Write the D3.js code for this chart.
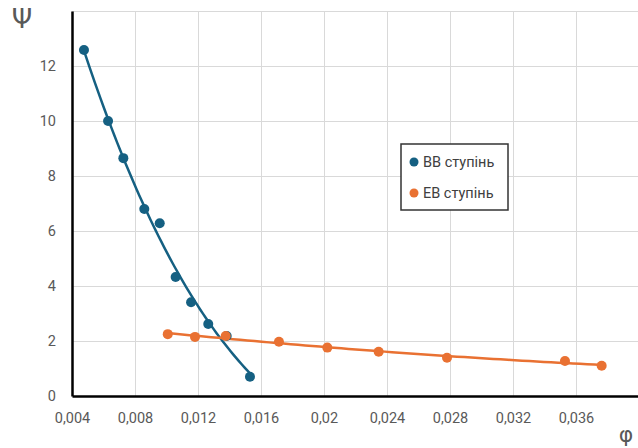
<!DOCTYPE html>
<html>
<head>
<meta charset="utf-8">
<script src="https://cdn.jsdelivr.net/npm/d3@7"></script>
<style>
  body { margin: 0; background: #fff; }
  svg { display: block; font-family: Roboto, "Noto Sans", sans-serif; }
</style>
</head>
<body>
<div id="container"></div>
<script>
/* CONSTANTS AND GLOBALS */
const width = 638,
  height = 448,
  margin = {top: 11, bottom: 52, left: 72, right: -1};

// ВВ ступінь
const bbPhi = [0.00476, 0.00629, 0.00726, 0.00859, 0.00957, 0.01058, 0.01156, 0.01265, 0.01382, 0.0153];
const bbPsi = [12.58, 10.0, 8.65, 6.80, 6.28, 4.33, 3.41, 2.62, 2.18, 0.70];

// ЕВ ступінь
const ebPhi = [0.01008, 0.01181, 0.01376, 0.01714, 0.02021, 0.02347, 0.02781, 0.0353, 0.03763];
const ebPsi = [2.25, 2.15, 2.18, 1.97, 1.76, 1.61, 1.39, 1.27, 1.10];

const xTicks = [0.004, 0.008, 0.012, 0.016, 0.02, 0.024, 0.028, 0.032, 0.036];
const yTicks = [0, 2, 4, 6, 8, 10, 12];
const seriesNames = ["ВВ ступінь", "ЕВ ступінь"];
const colors = ["#156082", "#E97132"];
const trendOrder = [3, 2];

const series = [
  {name: seriesNames[0], color: colors[0], order: trendOrder[0], data: bbPhi.map((x, i) => ({x, y: bbPsi[i]}))},
  {name: seriesNames[1], color: colors[1], order: trendOrder[1], data: ebPhi.map((x, i) => ({x, y: ebPsi[i]}))}
];

const fmt = v => d3.format("")(+v.toFixed(3)).replace(".", ",");

// SCALES
const xScale = d3.scaleLinear()
  .domain([0.004, 0.04])
  .range([margin.left, width - margin.right]);

const yScale = d3.scaleLinear()
  .domain([0, 14])
  .range([height - margin.bottom, margin.top]);

const svg = d3.select("#container")
  .append("svg")
  .attr("width", width)
  .attr("height", height);

// GRIDLINES
svg.append("g")
  .call(d3.axisBottom(xScale).tickValues(d3.range(0.008, 0.0401, 0.004)).tickSize(-(height - margin.bottom - margin.top)).tickFormat(""))
  .attr("transform", `translate(0,${height - margin.bottom})`)
  .call(g => g.select(".domain").remove())
  .call(g => g.selectAll("line").attr("stroke", "#d9d9d9").attr("stroke-width", 1));

svg.append("g")
  .call(d3.axisLeft(yScale).tickValues(d3.range(2, 14.1, 2)).tickSize(-(width - margin.left)).tickFormat(""))
  .attr("transform", `translate(${margin.left},0)`)
  .call(g => g.select(".domain").remove())
  .call(g => g.selectAll("line").attr("stroke", "#d9d9d9").attr("stroke-width", 1));

// AXES
const xAxisGroup = svg.append("g")
  .attr("transform", `translate(0,${height - margin.bottom})`)
  .call(d3.axisBottom(xScale).tickValues(xTicks).tickSize(0).tickPadding(17).tickFormat(fmt));

const yAxisGroup = svg.append("g")
  .attr("transform", `translate(${margin.left},0)`)
  .call(d3.axisLeft(yScale).tickValues(yTicks).tickSize(0).tickPadding(16).tickFormat(fmt));

[xAxisGroup, yAxisGroup].forEach(g => {
  g.select(".domain").attr("stroke", "#000").attr("stroke-width", 2.5);
  g.selectAll("text").attr("fill", "#595959").style("font-size", "14.5px").style("font-family", "Roboto, sans-serif");
});

// axis titles
svg.append("text")
  .attr("x", 22).attr("y", 28)
  .attr("text-anchor", "middle")
  .attr("fill", "#595959")
  .style("font-size", "26px")
  .style("font-family", "DejaVu Sans, sans-serif")
  .text("Ψ");

svg.append("text")
  .attr("x", 626).attr("y", 442)
  .attr("text-anchor", "middle")
  .attr("fill", "#595959")
  .style("font-size", "22px")
  .style("font-family", "DejaVu Sans, sans-serif")
  .text("φ");

// least squares polynomial trendline (like the spreadsheet trendline)
function polyFit(pts, order) {
  const m = order + 1;
  const M = d3.range(m).map(() => new Array(m + 1).fill(0));
  pts.forEach(p => {
    const u = p.x * 100;
    for (let i = 0; i < m; i++) {
      for (let j = 0; j < m; j++) M[i][j] += Math.pow(u, i + j);
      M[i][m] += p.y * Math.pow(u, i);
    }
  });
  for (let i = 0; i < m; i++) {
    for (let j = i + 1; j < m; j++) {
      const f = M[j][i] / M[i][i];
      for (let k = i; k <= m; k++) M[j][k] -= f * M[i][k];
    }
  }
  const c = new Array(m).fill(0);
  for (let i = m - 1; i >= 0; i--) {
    let v = M[i][m];
    for (let k = i + 1; k < m; k++) v -= M[i][k] * c[k];
    c[i] = v / M[i][i];
  }
  return x => { const u = x * 100; return c.reduce((a, ci, k) => a + ci * Math.pow(u, k), 0); };
}

const lineGen = d3.line()
  .x(d => xScale(d.x))
  .y(d => yScale(d.y));

series.forEach(s => {
  const f = polyFit(s.data, s.order);
  const [x0, x1] = d3.extent(s.data, d => d.x);
  const trend = d3.range(0, 61).map(i => {
    const x = x0 + (x1 - x0) * i / 60;
    return {x, y: f(x)};
  });
  svg.append("path")
    .datum(trend)
    .attr("fill", "none")
    .attr("stroke", s.color)
    .attr("stroke-width", 2.5)
    .attr("d", lineGen);
});

series.forEach(s => {
  svg.append("g")
    .selectAll("circle")
    .data(s.data)
    .join("circle")
    .attr("cx", d => xScale(d.x))
    .attr("cy", d => yScale(d.y))
    .attr("r", 5)
    .attr("fill", s.color);
});

// LEGEND
const legend = svg.append("g").attr("transform", "translate(401,144)");
legend.append("rect")
  .attr("width", 107).attr("height", 66)
  .attr("fill", "#fff")
  .attr("stroke", "#333")
  .attr("stroke-width", 1.5);

legend.selectAll("g.item")
  .data(series)
  .join("g")
  .attr("class", "item")
  .attr("transform", (d, i) => `translate(13,${18 + i * 31})`)
  .call(g => g.append("circle").attr("r", 4.5).attr("fill", d => d.color))
  .call(g => g.append("text")
    .attr("x", 9).attr("dy", "0.35em")
    .attr("fill", "#404040")
    .style("font-size", "14.5px")
    .text(d => d.name));
</script>
</body>
</html>
